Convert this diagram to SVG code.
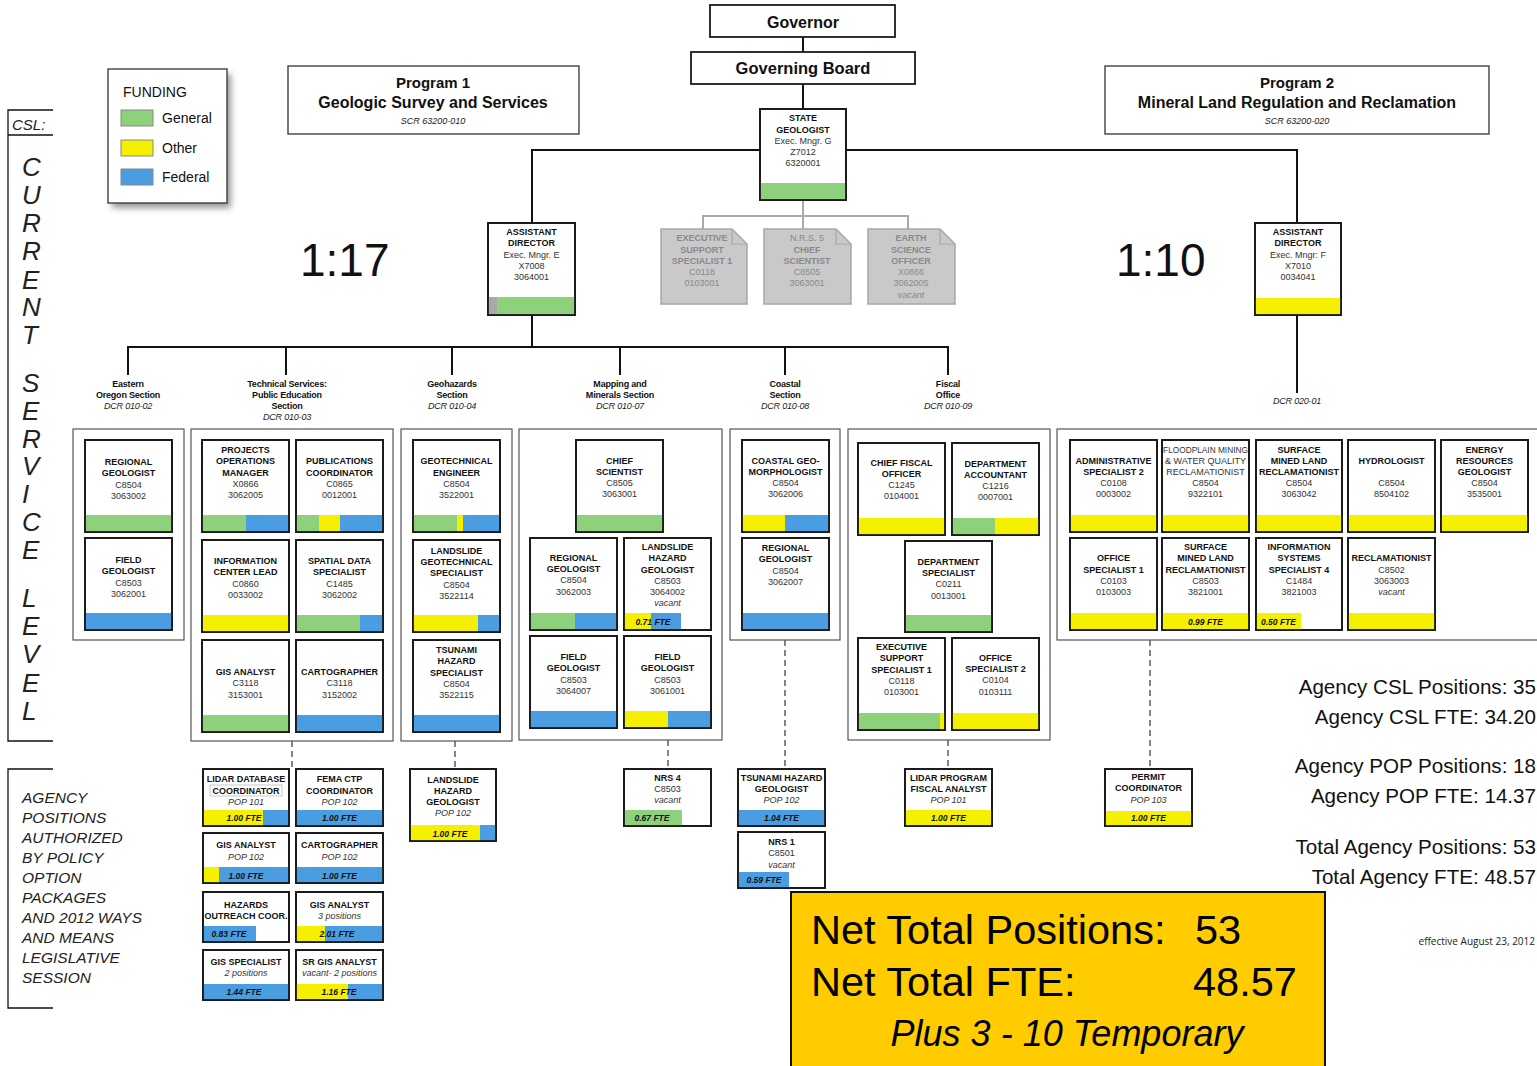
<svg xmlns="http://www.w3.org/2000/svg" width="1537" height="1066" viewBox="0 0 1537 1066">
<defs>
<style>
text{font-family:"Liberation Sans",Arial,sans-serif;}
.bx{fill:#fff;stroke:#1a1a1a;stroke-width:1.8}
.ol{fill:none;stroke:#1a1a1a;stroke-width:1.8}
.ct{fill:#fff;stroke:#555;stroke-width:1.2}
.gb{fill:#c9c9c9;stroke:#a8a8a8;stroke-width:1.5}
.gf{fill:none;stroke:#a8a8a8;stroke-width:1.2}
.g{fill:#8fd07c}.y{fill:#f5ef00}.b{fill:#4a9de0}.gr{fill:#a8a8a8}
.t{font-size:9px;font-weight:bold;text-anchor:middle;fill:#111}
.n{font-weight:normal;fill:#333}
.i{font-style:italic;font-weight:normal;fill:#333}
.f{font-size:8.5px;font-weight:bold;font-style:italic;text-anchor:middle;fill:#111}
.gt{font-size:9px;font-weight:bold;text-anchor:middle;fill:#8a8a8a}
.sl{font-size:9px;font-weight:bold;text-anchor:middle;fill:#111;letter-spacing:-0.2px}
.sd{font-size:9px;font-style:italic;text-anchor:middle;fill:#222;letter-spacing:-0.2px}
.ln{fill:none;stroke:#111;stroke-width:2}
.dl{fill:none;stroke:#333;stroke-width:1.2;stroke-dasharray:6,4}
.gl{fill:none;stroke:#aaa;stroke-width:2}
.big{font-size:46px;fill:#111}
.csl{font-size:26px;font-style:italic;fill:#222}
.ag{font-size:15.5px;font-style:italic;fill:#222}
.st{font-size:20.6px;text-anchor:end;fill:#111}
</style>
<filter id="sh" x="-10%" y="-10%" width="130%" height="130%"><feGaussianBlur stdDeviation="3"/></filter>
</defs>
<rect width="1537" height="1066" fill="#fff"/>

<g id="connectors">
<path class="ln" d="M803,37V52M803,84V109M532,223V150H1297V223"/>
<path class="gl" d="M803,200V216M703,229V216H908V229M803,216V229"/>
<path class="ln" d="M532,315V347M128,375V347H948V375M286,347V375M452,347V375M620,347V375M785,347V375M1297,315V393"/>
<path class="dl" d="M292,741V769M455,741V769M668,740V769M785,640V769M948,740V769M1150,640V769"/>
</g>

<g id="csl-bracket">
<path class="ln" style="stroke-width:1.3" d="M53,110H8V741H53M8,135H53"/>
<text x="12" y="130" style="font-size:15px;font-style:italic;fill:#222">CSL:</text>
<text class="csl" x="22" y="176">C</text>
<text class="csl" x="22" y="204">U</text>
<text class="csl" x="22" y="232">R</text>
<text class="csl" x="22" y="260">R</text>
<text class="csl" x="22" y="289">E</text>
<text class="csl" x="22" y="316">N</text>
<text class="csl" x="22" y="344">T</text>
<text class="csl" x="22" y="392">S</text>
<text class="csl" x="22" y="420">E</text>
<text class="csl" x="22" y="448">R</text>
<text class="csl" x="22" y="475">V</text>
<text class="csl" x="22" y="503">I</text>
<text class="csl" x="22" y="531">C</text>
<text class="csl" x="22" y="559">E</text>
<text class="csl" x="22" y="607">L</text>
<text class="csl" x="22" y="635">E</text>
<text class="csl" x="22" y="663">V</text>
<text class="csl" x="22" y="692">E</text>
<text class="csl" x="22" y="720">L</text>
</g>

<g id="pop-bracket">
<path class="ln" style="stroke-width:1.3" d="M53,769H8V1008H53"/>
<text class="ag" x="22" y="803">AGENCY</text>
<text class="ag" x="22" y="823">POSITIONS</text>
<text class="ag" x="22" y="843">AUTHORIZED</text>
<text class="ag" x="22" y="863">BY POLICY</text>
<text class="ag" x="22" y="883">OPTION</text>
<text class="ag" x="22" y="903">PACKAGES</text>
<text class="ag" x="22" y="923">AND 2012 WAYS</text>
<text class="ag" x="22" y="943">AND MEANS</text>
<text class="ag" x="22" y="963">LEGISLATIVE</text>
<text class="ag" x="22" y="983">SESSION</text>
</g>

<g id="legend">
<rect x="112" y="74" width="119" height="134" fill="#999" filter="url(#sh)"/>
<rect x="108" y="69" width="119" height="134" fill="#fff" stroke="#333" stroke-width="1.3"/>
<text x="123" y="97" style="font-size:14px;fill:#111">FUNDING</text>
<rect class="g" x="121" y="110" width="32" height="16" stroke="#888"/>
<rect class="y" x="121" y="140" width="32" height="16" stroke="#888"/>
<rect class="b" x="121" y="169" width="32" height="16" stroke="#888"/>
<text x="162" y="123" style="font-size:14px;fill:#111">General</text>
<text x="162" y="153" style="font-size:14px;fill:#111">Other</text>
<text x="162" y="182" style="font-size:14px;fill:#111">Federal</text>
</g>

<g id="program1">
<rect x="288" y="66" width="291" height="68" fill="#fff" stroke="#333" stroke-width="1.3"/>
<text x="433" y="88" style="font-size:15px;font-weight:bold;text-anchor:middle;fill:#111">Program 1</text>
<text x="433" y="108" style="font-size:16px;font-weight:bold;text-anchor:middle;fill:#111">Geologic Survey and Services</text>
<text x="433" y="124" style="font-size:9px;font-style:italic;text-anchor:middle;fill:#222">SCR 63200-010</text>
</g>

<g id="program2">
<rect x="1105" y="66" width="384" height="68" fill="#fff" stroke="#333" stroke-width="1.3"/>
<text x="1297" y="88" style="font-size:15px;font-weight:bold;text-anchor:middle;fill:#111">Program 2</text>
<text x="1297" y="108" style="font-size:16px;font-weight:bold;text-anchor:middle;fill:#111">Mineral Land Regulation and Reclamation</text>
<text x="1297" y="124" style="font-size:9px;font-style:italic;text-anchor:middle;fill:#222">SCR 63200-020</text>
</g>

<g id="ratio1"><text class="big" x="300" y="276">1:17</text></g>
<g id="ratio2"><text class="big" x="1116" y="276">1:10</text></g>

<g id="governor">
<rect x="710" y="5" width="185" height="32" class="bx"/>
<text x="803" y="28" style="font-size:16px;font-weight:bold;text-anchor:middle;fill:#111">Governor</text>
</g>
<g id="board">
<rect x="691" y="52" width="224" height="32" class="bx"/>
<text x="803" y="74" style="font-size:16.5px;font-weight:bold;text-anchor:middle;fill:#111">Governing Board</text>
</g>

<g id="state-geologist">
<rect class="bx" x="760" y="109" width="86" height="91"/>
<rect class="g" x="760" y="183" width="86" height="17"/>
<rect class="ol" x="760" y="109" width="86" height="91"/>
<text class="t" x="803" y="121">STATE</text>
<text class="t" x="803" y="133">GEOLOGIST</text>
<text class="t n" x="803" y="144">Exec. Mngr. G</text>
<text class="t n" x="803" y="155">Z7012</text>
<text class="t n" x="803" y="166">6320001</text>
</g>

<g id="asst-director-1">
<rect class="bx" x="488" y="223" width="87" height="92"/>
<rect class="gr" x="488" y="297" width="9" height="18"/>
<rect class="g" x="497" y="297" width="78" height="18"/>
<rect class="ol" x="488" y="223" width="87" height="92"/>
<text class="t" x="531.5" y="235">ASSISTANT</text>
<text class="t" x="531.5" y="246">DIRECTOR</text>
<text class="t n" x="531.5" y="258">Exec. Mngr. E</text>
<text class="t n" x="531.5" y="269">X7008</text>
<text class="t n" x="531.5" y="280">3064001</text>
</g>

<g id="asst-director-2">
<rect class="bx" x="1255" y="223" width="86" height="92"/>
<rect class="y" x="1255" y="298" width="86" height="17"/>
<rect class="ol" x="1255" y="223" width="86" height="92"/>
<text class="t" x="1298" y="235">ASSISTANT</text>
<text class="t" x="1298" y="246">DIRECTOR</text>
<text class="t n" x="1298" y="258">Exec. Mngr: F</text>
<text class="t n" x="1298" y="269">X7010</text>
<text class="t n" x="1298" y="280">0034041</text>
</g>

<g id="exec-support-gray">
<path class="gb" d="M661,229H732L747,244V304H661Z"/>
<path class="gf" d="M732,229V244H747"/>
<text class="gt" x="702" y="241">EXECUTIVE</text>
<text class="gt" x="702" y="253">SUPPORT</text>
<text class="gt" x="702" y="264">SPECIALIST 1</text>
<text class="gt" x="702" y="275" style="font-weight:normal">C0118</text>
<text class="gt" x="702" y="286" style="font-weight:normal">0103001</text>
</g>
<g id="chief-scientist-gray">
<path class="gb" d="M764,229H836L851,244V304H764Z"/>
<path class="gf" d="M836,229V244H851"/>
<text class="gt" x="807" y="241" style="font-weight:normal">N.R.S. 5</text>
<text class="gt" x="807" y="253">CHIEF</text>
<text class="gt" x="807" y="264">SCIENTIST</text>
<text class="gt" x="807" y="275" style="font-weight:normal">C8505</text>
<text class="gt" x="807" y="286" style="font-weight:normal">3063001</text>
</g>
<g id="earth-science-gray">
<path class="gb" d="M868,229H940L955,244V304H868Z"/>
<path class="gf" d="M940,229V244H955"/>
<text class="gt" x="911" y="241">EARTH</text>
<text class="gt" x="911" y="253">SCIENCE</text>
<text class="gt" x="911" y="264">OFFICER</text>
<text class="gt" x="911" y="275" style="font-weight:normal">X0866</text>
<text class="gt" x="911" y="286" style="font-weight:normal">3062005</text>
<text class="gt" x="911" y="298" style="font-weight:normal;font-style:italic">vacant</text>
</g>

<g id="section-labels">
<text class="sl" x="128" y="387">Eastern</text>
<text class="sl" x="128" y="398">Oregon Section</text>
<text class="sd" x="128" y="409">DCR 010-02</text>
<text class="sl" x="287" y="387">Technical Services:</text>
<text class="sl" x="287" y="398">Public Education</text>
<text class="sl" x="287" y="409">Section</text>
<text class="sd" x="287" y="420">DCR 010-03</text>
<text class="sl" x="452" y="387">Geohazards</text>
<text class="sl" x="452" y="398">Section</text>
<text class="sd" x="452" y="409">DCR 010-04</text>
<text class="sl" x="620" y="387">Mapping and</text>
<text class="sl" x="620" y="398">Minerals Section</text>
<text class="sd" x="620" y="409">DCR 010-07</text>
<text class="sl" x="785" y="387">Coastal</text>
<text class="sl" x="785" y="398">Section</text>
<text class="sd" x="785" y="409">DCR 010-08</text>
<text class="sl" x="948" y="387">Fiscal</text>
<text class="sl" x="948" y="398">Office</text>
<text class="sd" x="948" y="409">DCR 010-09</text>
<text class="sd" x="1297" y="404">DCR 020-01</text>
</g>

<g id="containers">
<rect class="ct" x="73" y="429" width="111" height="211"/>
<rect class="ct" x="191" y="429" width="202" height="312"/>
<rect class="ct" x="401" y="429" width="111" height="312"/>
<rect class="ct" x="519" y="429" width="203" height="311"/>
<rect class="ct" x="730" y="429" width="110" height="211"/>
<rect class="ct" x="848" y="429" width="202" height="311"/>
<rect class="ct" x="1057" y="429" width="500" height="211"/>
</g>

<!-- Eastern Oregon -->
<g id="eo-regional-geologist">
<rect class="bx" x="85" y="440" width="87" height="92"/>
<rect class="g" x="85" y="515" width="87" height="17"/>
<rect class="ol" x="85" y="440" width="87" height="92"/>
<text class="t" x="128.5" y="465">REGIONAL</text>
<text class="t" x="128.5" y="476">GEOLOGIST</text>
<text class="t n" x="128.5" y="488">C8504</text>
<text class="t n" x="128.5" y="499">3063002</text>
</g>
<g id="eo-field-geologist">
<rect class="bx" x="85" y="538" width="87" height="92"/>
<rect class="b" x="85" y="613" width="87" height="17"/>
<rect class="ol" x="85" y="538" width="87" height="92"/>
<text class="t" x="128.5" y="563">FIELD</text>
<text class="t" x="128.5" y="574">GEOLOGIST</text>
<text class="t n" x="128.5" y="586">C8503</text>
<text class="t n" x="128.5" y="597">3062001</text>
</g>

<!-- Technical Services -->
<g id="ts-projects-ops-manager">
<rect class="bx" x="202" y="440" width="87" height="92"/>
<rect class="g" x="202" y="515" width="44" height="17"/>
<rect class="b" x="246" y="515" width="43" height="17"/>
<rect class="ol" x="202" y="440" width="87" height="92"/>
<text class="t" x="245.5" y="453">PROJECTS</text>
<text class="t" x="245.5" y="464">OPERATIONS</text>
<text class="t" x="245.5" y="476">MANAGER</text>
<text class="t n" x="245.5" y="487">X0866</text>
<text class="t n" x="245.5" y="498">3062005</text>
</g>
<g id="ts-publications-coordinator">
<rect class="bx" x="296" y="440" width="87" height="92"/>
<rect class="g" x="296" y="515" width="23" height="17"/>
<rect class="y" x="319" y="515" width="21" height="17"/>
<rect class="b" x="340" y="515" width="43" height="17"/>
<rect class="ol" x="296" y="440" width="87" height="92"/>
<text class="t" x="339.5" y="464">PUBLICATIONS</text>
<text class="t" x="339.5" y="476">COORDINATOR</text>
<text class="t n" x="339.5" y="487">C0865</text>
<text class="t n" x="339.5" y="498">0012001</text>
</g>
<g id="ts-information-center-lead">
<rect class="bx" x="202" y="540" width="87" height="92"/>
<rect class="y" x="202" y="615" width="87" height="17"/>
<rect class="ol" x="202" y="540" width="87" height="92"/>
<text class="t" x="245.5" y="564">INFORMATION</text>
<text class="t" x="245.5" y="575">CENTER LEAD</text>
<text class="t n" x="245.5" y="587">C0860</text>
<text class="t n" x="245.5" y="598">0033002</text>
</g>
<g id="ts-spatial-data-specialist">
<rect class="bx" x="296" y="540" width="87" height="92"/>
<rect class="g" x="296" y="615" width="64" height="17"/>
<rect class="b" x="360" y="615" width="23" height="17"/>
<rect class="ol" x="296" y="540" width="87" height="92"/>
<text class="t" x="339.5" y="564">SPATIAL DATA</text>
<text class="t" x="339.5" y="575">SPECIALIST</text>
<text class="t n" x="339.5" y="587">C1485</text>
<text class="t n" x="339.5" y="598">3062002</text>
</g>
<g id="ts-gis-analyst">
<rect class="bx" x="202" y="640" width="87" height="92"/>
<rect class="g" x="202" y="715" width="87" height="17"/>
<rect class="ol" x="202" y="640" width="87" height="92"/>
<text class="t" x="245.5" y="675">GIS ANALYST</text>
<text class="t n" x="245.5" y="686">C3118</text>
<text class="t n" x="245.5" y="698">3153001</text>
</g>
<g id="ts-cartographer">
<rect class="bx" x="296" y="640" width="87" height="92"/>
<rect class="b" x="296" y="715" width="87" height="17"/>
<rect class="ol" x="296" y="640" width="87" height="92"/>
<text class="t" x="339.5" y="675">CARTOGRAPHER</text>
<text class="t n" x="339.5" y="686">C3118</text>
<text class="t n" x="339.5" y="698">3152002</text>
</g>

<!-- Geohazards -->
<g id="gh-geotechnical-engineer">
<rect class="bx" x="413" y="440" width="87" height="92"/>
<rect class="g" x="413" y="515" width="44" height="17"/>
<rect class="y" x="457" y="515" width="6" height="17"/>
<rect class="b" x="463" y="515" width="37" height="17"/>
<rect class="ol" x="413" y="440" width="87" height="92"/>
<text class="t" x="456.5" y="464">GEOTECHNICAL</text>
<text class="t" x="456.5" y="476">ENGINEER</text>
<text class="t n" x="456.5" y="487">C8504</text>
<text class="t n" x="456.5" y="498">3522001</text>
</g>
<g id="gh-landslide-geotech-specialist">
<rect class="bx" x="413" y="540" width="87" height="92"/>
<rect class="y" x="413" y="615" width="65" height="17"/>
<rect class="b" x="478" y="615" width="22" height="17"/>
<rect class="ol" x="413" y="540" width="87" height="92"/>
<text class="t" x="456.5" y="554">LANDSLIDE</text>
<text class="t" x="456.5" y="565">GEOTECHNICAL</text>
<text class="t" x="456.5" y="576">SPECIALIST</text>
<text class="t n" x="456.5" y="588">C8504</text>
<text class="t n" x="456.5" y="599">3522114</text>
</g>
<g id="gh-tsunami-hazard-specialist">
<rect class="bx" x="413" y="640" width="87" height="92"/>
<rect class="b" x="413" y="715" width="87" height="17"/>
<rect class="ol" x="413" y="640" width="87" height="92"/>
<text class="t" x="456.5" y="653">TSUNAMI</text>
<text class="t" x="456.5" y="664">HAZARD</text>
<text class="t" x="456.5" y="676">SPECIALIST</text>
<text class="t n" x="456.5" y="687">C8504</text>
<text class="t n" x="456.5" y="698">3522115</text>
</g>

<!-- Mapping and Minerals -->
<g id="mm-chief-scientist">
<rect class="bx" x="576" y="440" width="87" height="92"/>
<rect class="g" x="576" y="515" width="87" height="17"/>
<rect class="ol" x="576" y="440" width="87" height="92"/>
<text class="t" x="619.5" y="464">CHIEF</text>
<text class="t" x="619.5" y="475">SCIENTIST</text>
<text class="t n" x="619.5" y="486">C8505</text>
<text class="t n" x="619.5" y="497">3063001</text>
</g>
<g id="mm-regional-geologist">
<rect class="bx" x="530" y="538" width="87" height="92"/>
<rect class="g" x="530" y="613" width="45" height="17"/>
<rect class="b" x="575" y="613" width="42" height="17"/>
<rect class="ol" x="530" y="538" width="87" height="92"/>
<text class="t" x="573.5" y="561">REGIONAL</text>
<text class="t" x="573.5" y="572">GEOLOGIST</text>
<text class="t n" x="573.5" y="583">C8504</text>
<text class="t n" x="573.5" y="595">3062003</text>
</g>
<g id="mm-landslide-hazard-geologist">
<rect class="bx" x="624" y="538" width="87" height="92"/>
<rect class="y" x="624" y="613" width="27" height="17"/>
<rect class="b" x="651" y="613" width="30" height="17"/>
<rect class="ol" x="624" y="538" width="87" height="92"/>
<text class="t" x="667.5" y="550">LANDSLIDE</text>
<text class="t" x="667.5" y="561">HAZARD</text>
<text class="t" x="667.5" y="573">GEOLOGIST</text>
<text class="t n" x="667.5" y="584">C8503</text>
<text class="t n" x="667.5" y="595">3064002</text>
<text class="t i" x="667.5" y="606">vacant</text>
<text class="f" x="653" y="625">0.71 FTE</text>
</g>
<g id="mm-field-geologist-1">
<rect class="bx" x="530" y="636" width="87" height="92"/>
<rect class="b" x="530" y="711" width="87" height="17"/>
<rect class="ol" x="530" y="636" width="87" height="92"/>
<text class="t" x="573.5" y="660">FIELD</text>
<text class="t" x="573.5" y="671">GEOLOGIST</text>
<text class="t n" x="573.5" y="683">C8503</text>
<text class="t n" x="573.5" y="694">3064007</text>
</g>
<g id="mm-field-geologist-2">
<rect class="bx" x="624" y="636" width="87" height="92"/>
<rect class="y" x="624" y="711" width="44" height="17"/>
<rect class="b" x="668" y="711" width="43" height="17"/>
<rect class="ol" x="624" y="636" width="87" height="92"/>
<text class="t" x="667.5" y="660">FIELD</text>
<text class="t" x="667.5" y="671">GEOLOGIST</text>
<text class="t n" x="667.5" y="683">C8503</text>
<text class="t n" x="667.5" y="694">3061001</text>
</g>

<!-- Coastal -->
<g id="co-coastal-geomorphologist">
<rect class="bx" x="742" y="440" width="87" height="92"/>
<rect class="y" x="742" y="515" width="43" height="17"/>
<rect class="b" x="785" y="515" width="44" height="17"/>
<rect class="ol" x="742" y="440" width="87" height="92"/>
<text class="t" x="785.5" y="464">COASTAL GEO-</text>
<text class="t" x="785.5" y="475">MORPHOLOGIST</text>
<text class="t n" x="785.5" y="486">C8504</text>
<text class="t n" x="785.5" y="497">3062006</text>
</g>
<g id="co-regional-geologist">
<rect class="bx" x="742" y="538" width="87" height="92"/>
<rect class="b" x="742" y="613" width="87" height="17"/>
<rect class="ol" x="742" y="538" width="87" height="92"/>
<text class="t" x="785.5" y="551">REGIONAL</text>
<text class="t" x="785.5" y="562">GEOLOGIST</text>
<text class="t n" x="785.5" y="574">C8504</text>
<text class="t n" x="785.5" y="585">3062007</text>
</g>

<!-- Fiscal -->
<g id="fo-chief-fiscal-officer">
<rect class="bx" x="858" y="443" width="87" height="92"/>
<rect class="y" x="858" y="518" width="87" height="17"/>
<rect class="ol" x="858" y="443" width="87" height="92"/>
<text class="t" x="901.5" y="466">CHIEF FISCAL</text>
<text class="t" x="901.5" y="477">OFFICER</text>
<text class="t n" x="901.5" y="488">C1245</text>
<text class="t n" x="901.5" y="499">0104001</text>
</g>
<g id="fo-department-accountant">
<rect class="bx" x="952" y="443" width="87" height="92"/>
<rect class="g" x="952" y="518" width="43" height="17"/>
<rect class="y" x="995" y="518" width="44" height="17"/>
<rect class="ol" x="952" y="443" width="87" height="92"/>
<text class="t" x="995.5" y="467">DEPARTMENT</text>
<text class="t" x="995.5" y="478">ACCOUNTANT</text>
<text class="t n" x="995.5" y="489">C1216</text>
<text class="t n" x="995.5" y="500">0007001</text>
</g>
<g id="fo-department-specialist">
<rect class="bx" x="905" y="541" width="87" height="91"/>
<rect class="g" x="905" y="615" width="87" height="17"/>
<rect class="ol" x="905" y="541" width="87" height="91"/>
<text class="t" x="948.5" y="565">DEPARTMENT</text>
<text class="t" x="948.5" y="576">SPECIALIST</text>
<text class="t n" x="948.5" y="587">C0211</text>
<text class="t n" x="948.5" y="599">0013001</text>
</g>
<g id="fo-exec-support-specialist">
<rect class="bx" x="858" y="638" width="87" height="92"/>
<rect class="g" x="858" y="713" width="82" height="17"/>
<rect class="y" x="940" y="713" width="5" height="17"/>
<rect class="ol" x="858" y="638" width="87" height="92"/>
<text class="t" x="901.5" y="650">EXECUTIVE</text>
<text class="t" x="901.5" y="661">SUPPORT</text>
<text class="t" x="901.5" y="673">SPECIALIST 1</text>
<text class="t n" x="901.5" y="684">C0118</text>
<text class="t n" x="901.5" y="695">0103001</text>
</g>
<g id="fo-office-specialist-2">
<rect class="bx" x="952" y="638" width="87" height="92"/>
<rect class="y" x="952" y="713" width="87" height="17"/>
<rect class="ol" x="952" y="638" width="87" height="92"/>
<text class="t" x="995.5" y="661">OFFICE</text>
<text class="t" x="995.5" y="672">SPECIALIST 2</text>
<text class="t n" x="995.5" y="683">C0104</text>
<text class="t n" x="995.5" y="695">0103111</text>
</g>

<!-- Program 2 -->
<g id="p2-admin-specialist-2">
<rect class="bx" x="1070" y="440" width="87" height="92"/>
<rect class="y" x="1070" y="515" width="87" height="17"/>
<rect class="ol" x="1070" y="440" width="87" height="92"/>
<text class="t" x="1113.5" y="464">ADMINISTRATIVE</text>
<text class="t" x="1113.5" y="475">SPECIALIST 2</text>
<text class="t n" x="1113.5" y="486">C0108</text>
<text class="t n" x="1113.5" y="497">0003002</text>
</g>
<g id="p2-floodplain-reclamationist">
<rect class="bx" x="1162" y="440" width="87" height="92"/>
<rect class="y" x="1162" y="515" width="87" height="17"/>
<rect class="ol" x="1162" y="440" width="87" height="92"/>
<text class="t n" x="1205.5" y="453" style="font-size:8.3px">FLOODPLAIN MINING</text>
<text class="t n" x="1205.5" y="464">&amp; WATER QUALITY</text>
<text class="t n" x="1205.5" y="475">RECLAMATIONIST</text>
<text class="t n" x="1205.5" y="486">C8504</text>
<text class="t n" x="1205.5" y="497">9322101</text>
</g>
<g id="p2-surface-mined-land-reclamationist-1">
<rect class="bx" x="1256" y="440" width="86" height="92"/>
<rect class="y" x="1256" y="515" width="86" height="17"/>
<rect class="ol" x="1256" y="440" width="86" height="92"/>
<text class="t" x="1299" y="453">SURFACE</text>
<text class="t" x="1299" y="464">MINED LAND</text>
<text class="t" x="1299" y="475">RECLAMATIONIST</text>
<text class="t n" x="1299" y="486">C8504</text>
<text class="t n" x="1299" y="497">3063042</text>
</g>
<g id="p2-hydrologist">
<rect class="bx" x="1348" y="440" width="87" height="92"/>
<rect class="y" x="1348" y="515" width="87" height="17"/>
<rect class="ol" x="1348" y="440" width="87" height="92"/>
<text class="t" x="1391.5" y="464">HYDROLOGIST</text>
<text class="t n" x="1391.5" y="486">C8504</text>
<text class="t n" x="1391.5" y="497">8504102</text>
</g>
<g id="p2-energy-resources-geologist">
<rect class="bx" x="1441" y="440" width="87" height="92"/>
<rect class="y" x="1441" y="515" width="87" height="17"/>
<rect class="ol" x="1441" y="440" width="87" height="92"/>
<text class="t" x="1484.5" y="453">ENERGY</text>
<text class="t" x="1484.5" y="464">RESOURCES</text>
<text class="t" x="1484.5" y="475">GEOLOGIST</text>
<text class="t n" x="1484.5" y="486">C8504</text>
<text class="t n" x="1484.5" y="497">3535001</text>
</g>
<g id="p2-office-specialist-1">
<rect class="bx" x="1070" y="538" width="87" height="92"/>
<rect class="y" x="1070" y="613" width="87" height="17"/>
<rect class="ol" x="1070" y="538" width="87" height="92"/>
<text class="t" x="1113.5" y="561">OFFICE</text>
<text class="t" x="1113.5" y="573">SPECIALIST 1</text>
<text class="t n" x="1113.5" y="584">C0103</text>
<text class="t n" x="1113.5" y="595">0103003</text>
</g>
<g id="p2-surface-mined-land-reclamationist-2">
<rect class="bx" x="1162" y="538" width="87" height="92"/>
<rect class="y" x="1162" y="613" width="87" height="17"/>
<rect class="ol" x="1162" y="538" width="87" height="92"/>
<text class="t" x="1205.5" y="550">SURFACE</text>
<text class="t" x="1205.5" y="561">MINED LAND</text>
<text class="t" x="1205.5" y="573">RECLAMATIONIST</text>
<text class="t n" x="1205.5" y="584">C8503</text>
<text class="t n" x="1205.5" y="595">3821001</text>
<text class="f" x="1205.5" y="625">0.99 FTE</text>
</g>
<g id="p2-info-systems-specialist-4">
<rect class="bx" x="1256" y="538" width="86" height="92"/>
<rect class="y" x="1256" y="613" width="45" height="17"/>
<rect class="ol" x="1256" y="538" width="86" height="92"/>
<text class="t" x="1299" y="550">INFORMATION</text>
<text class="t" x="1299" y="561">SYSTEMS</text>
<text class="t" x="1299" y="573">SPECIALIST 4</text>
<text class="t n" x="1299" y="584">C1484</text>
<text class="t n" x="1299" y="595">3821003</text>
<text class="f" x="1278.5" y="625">0.50 FTE</text>
</g>
<g id="p2-reclamationist">
<rect class="bx" x="1348" y="538" width="87" height="92"/>
<rect class="y" x="1348" y="613" width="87" height="17"/>
<rect class="ol" x="1348" y="538" width="87" height="92"/>
<text class="t" x="1391.5" y="561">RECLAMATIONIST</text>
<text class="t n" x="1391.5" y="573">C8502</text>
<text class="t n" x="1391.5" y="584">3063003</text>
<text class="t i" x="1391.5" y="595">vacant</text>
</g>

<!-- POP positions -->
<g id="pop-lidar-database-coordinator">
<rect class="bx" x="203" y="769" width="86" height="57"/>
<rect class="y" x="203" y="810" width="60" height="16"/>
<rect class="b" x="263" y="810" width="26" height="16"/>
<rect class="ol" x="203" y="769" width="86" height="57"/>
<rect x="210" y="785" width="72" height="11" fill="none" stroke="#bbb" stroke-width="0.8"/>
<text class="t" x="246" y="782">LIDAR DATABASE</text>
<text class="t" x="246" y="794">COORDINATOR</text>
<text class="t i" x="246" y="805">POP 101</text>
<text class="f" x="244" y="821">1.00 FTE</text>
</g>
<g id="pop-fema-ctp-coordinator">
<rect class="bx" x="296" y="769" width="87" height="57"/>
<rect class="b" x="296" y="810" width="87" height="16"/>
<rect class="ol" x="296" y="769" width="87" height="57"/>
<text class="t" x="339.5" y="782">FEMA CTP</text>
<text class="t" x="339.5" y="794">COORDINATOR</text>
<text class="t i" x="339.5" y="805">POP 102</text>
<text class="f" x="339.5" y="821">1.00 FTE</text>
</g>
<g id="pop-gis-analyst">
<rect class="bx" x="203" y="833" width="86" height="50"/>
<rect class="y" x="203" y="867" width="16" height="16"/>
<rect class="b" x="219" y="867" width="70" height="16"/>
<rect class="ol" x="203" y="833" width="86" height="50"/>
<text class="t" x="246" y="848">GIS ANALYST</text>
<text class="t i" x="246" y="860">POP 102</text>
<text class="f" x="246" y="879">1.00 FTE</text>
</g>
<g id="pop-cartographer">
<rect class="bx" x="296" y="833" width="87" height="50"/>
<rect class="b" x="296" y="867" width="87" height="16"/>
<rect class="ol" x="296" y="833" width="87" height="50"/>
<text class="t" x="339.5" y="848">CARTOGRAPHER</text>
<text class="t i" x="339.5" y="860">POP 102</text>
<text class="f" x="339.5" y="879">1.00 FTE</text>
</g>
<g id="pop-hazards-outreach">
<rect class="bx" x="203" y="892" width="86" height="50"/>
<rect class="b" x="203" y="926" width="53" height="16"/>
<rect class="ol" x="203" y="892" width="86" height="50"/>
<text class="t" x="246" y="908">HAZARDS</text>
<text class="t" x="246" y="919">OUTREACH COOR.</text>
<text class="f" x="229" y="937">0.83 FTE</text>
</g>
<g id="pop-gis-analyst-3">
<rect class="bx" x="296" y="892" width="87" height="50"/>
<rect class="y" x="296" y="926" width="29" height="16"/>
<rect class="b" x="325" y="926" width="58" height="16"/>
<rect class="ol" x="296" y="892" width="87" height="50"/>
<text class="t" x="339.5" y="908">GIS ANALYST</text>
<text class="t i" x="339.5" y="919">3 positions</text>
<text class="f" x="337" y="937">2.01 FTE</text>
</g>
<g id="pop-gis-specialist">
<rect class="bx" x="203" y="950" width="86" height="50"/>
<rect class="b" x="203" y="984" width="86" height="16"/>
<rect class="ol" x="203" y="950" width="86" height="50"/>
<text class="t" x="246" y="965">GIS SPECIALIST</text>
<text class="t i" x="246" y="976">2 positions</text>
<text class="f" x="244" y="995">1.44 FTE</text>
</g>
<g id="pop-sr-gis-analyst">
<rect class="bx" x="296" y="950" width="87" height="50"/>
<rect class="y" x="296" y="984" width="52" height="16"/>
<rect class="b" x="348" y="984" width="35" height="16"/>
<rect class="ol" x="296" y="950" width="87" height="50"/>
<text class="t" x="339.5" y="965">SR GIS ANALYST</text>
<text class="t i" x="339.5" y="976">vacant- 2 positions</text>
<text class="f" x="339" y="995">1.16 FTE</text>
</g>
<g id="pop-landslide-hazard-geologist">
<rect class="bx" x="410" y="769" width="86" height="72"/>
<rect class="y" x="410" y="825" width="70" height="16"/>
<rect class="b" x="480" y="825" width="16" height="16"/>
<rect class="ol" x="410" y="769" width="86" height="72"/>
<text class="t" x="453" y="783">LANDSLIDE</text>
<text class="t" x="453" y="794">HAZARD</text>
<text class="t" x="453" y="805">GEOLOGIST</text>
<text class="t i" x="453" y="816">POP 102</text>
<text class="f" x="450" y="837">1.00 FTE</text>
</g>
<g id="pop-nrs4">
<rect class="bx" x="624" y="769" width="87" height="57"/>
<rect class="g" x="624" y="810" width="58" height="16"/>
<rect class="ol" x="624" y="769" width="87" height="57"/>
<text class="t" x="667.5" y="781">NRS 4</text>
<text class="t n" x="667.5" y="792">C8503</text>
<text class="t i" x="667.5" y="803">vacant</text>
<text class="f" x="652" y="821">0.67 FTE</text>
</g>
<g id="pop-tsunami-hazard-geologist">
<rect class="bx" x="738" y="769" width="87" height="57"/>
<rect class="b" x="738" y="810" width="87" height="16"/>
<rect class="ol" x="738" y="769" width="87" height="57"/>
<text class="t" x="781.5" y="781">TSUNAMI HAZARD</text>
<text class="t" x="781.5" y="792">GEOLOGIST</text>
<text class="t i" x="781.5" y="803">POP 102</text>
<text class="f" x="781.5" y="821">1.04 FTE</text>
</g>
<g id="pop-nrs1">
<rect class="bx" x="738" y="832" width="87" height="56"/>
<rect class="b" x="738" y="872" width="51" height="16"/>
<rect class="ol" x="738" y="832" width="87" height="56"/>
<text class="t" x="781.5" y="845">NRS 1</text>
<text class="t n" x="781.5" y="856">C8501</text>
<text class="t i" x="781.5" y="868">vacant</text>
<text class="f" x="764" y="883">0.59 FTE</text>
</g>
<g id="pop-lidar-program-fiscal-analyst">
<rect class="bx" x="905" y="769" width="87" height="57"/>
<rect class="y" x="905" y="810" width="87" height="16"/>
<rect class="ol" x="905" y="769" width="87" height="57"/>
<text class="t" x="948.5" y="781">LIDAR PROGRAM</text>
<text class="t" x="948.5" y="792">FISCAL ANALYST</text>
<text class="t i" x="948.5" y="803">POP 101</text>
<text class="f" x="948.5" y="821">1.00 FTE</text>
</g>
<g id="pop-permit-coordinator">
<rect class="bx" x="1105" y="769" width="87" height="57"/>
<rect class="y" x="1105" y="811" width="87" height="15"/>
<rect class="ol" x="1105" y="769" width="87" height="57"/>
<text class="t" x="1148.5" y="780">PERMIT</text>
<text class="t" x="1148.5" y="791">COORDINATOR</text>
<text class="t i" x="1148.5" y="803">POP 103</text>
<text class="f" x="1148.5" y="821">1.00 FTE</text>
</g>

<g id="stats">
<text class="st" x="1536" y="694">Agency CSL Positions: 35</text>
<text class="st" x="1536" y="724">Agency CSL FTE: 34.20</text>
<text class="st" x="1536" y="773">Agency POP Positions: 18</text>
<text class="st" x="1536" y="803">Agency POP FTE: 14.37</text>
<text class="st" x="1536" y="854">Total Agency Positions: 53</text>
<text class="st" x="1536" y="884">Total Agency FTE: 48.57</text>
<text x="1535" y="945" style="font-family:'Open Sans',sans-serif;font-size:10px;text-anchor:end;fill:#222">effective August 23, 2012</text>
</g>

<g id="net-total">
<rect x="791" y="892" width="534" height="180" fill="#ffcc00" stroke="#111" stroke-width="2"/>
<text x="811" y="944" style="font-size:41.5px;fill:#000">Net Total Positions:</text>
<text x="1195" y="944" style="font-size:41.5px;fill:#000">53</text>
<text x="811" y="996" style="font-size:41.5px;fill:#000">Net Total FTE:</text>
<text x="1193" y="996" style="font-size:41.5px;fill:#000">48.57</text>
<text x="1067" y="1046" style="font-size:36px;font-style:italic;text-anchor:middle;fill:#000">Plus 3 - 10 Temporary</text>
</g>
</svg>
